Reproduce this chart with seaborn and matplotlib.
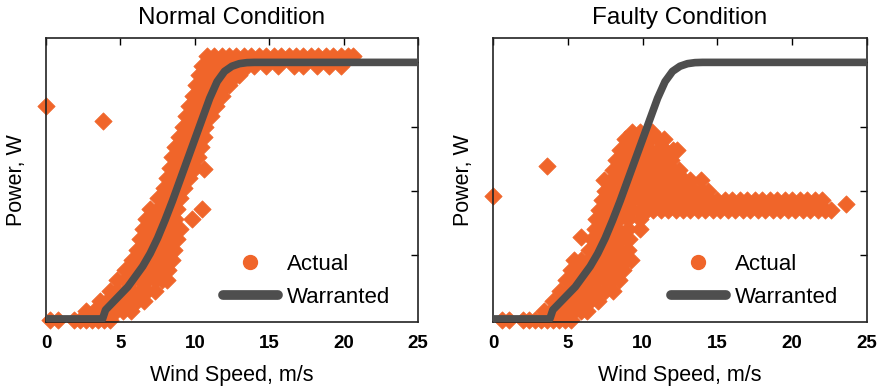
import matplotlib
matplotlib.use("Agg")
import matplotlib.pyplot as plt
import pandas as pd
import seaborn as sns
from matplotlib.lines import Line2D

# ---------------- data (power as fraction of rated power) ----------------
curve_ws = [0, 3.8, 4.0, 4.5, 5.0, 5.5, 6.0, 6.5, 7.0, 7.5, 8.0, 8.5, 9.0, 9.5,
            10.0, 10.5, 11.0, 11.5, 12.0, 12.5, 13.0, 13.5, 14.0, 25.0]
curve_pw = [0, 0, 0.035, 0.065, 0.095, 0.125, 0.165, 0.205, 0.255, 0.315, 0.385,
            0.46, 0.54, 0.62, 0.70, 0.78, 0.86, 0.925, 0.965, 0.985, 0.995,
            0.999, 1.0, 1.0]

# Normal condition: rows of measured points (power level, wind speeds)
normal_rows = [
    (-0.005, [0.3, 0.8, 1.9, 2.3, 2.7, 3.1, 3.5, 3.9, 4.3]),
    (0.03, [2.7, 3.2, 3.7, 4.2, 4.7, 5.2, 5.7]),
    (0.07, [3.6, 4.1, 4.6, 5.1, 5.6, 6.1, 6.6]),
    (0.11, [4.3, 4.8, 5.3, 5.8, 6.3, 6.8, 7.3]),
    (0.15, [4.8, 5.3, 5.8, 6.3, 6.8, 7.3, 7.8, 8.1]),
    (0.19, [5.3, 5.8, 6.3, 6.8, 7.3, 7.8, 8.2]),
    (0.23, [5.8, 6.3, 6.8, 7.3, 7.8, 8.3, 8.5]),
    (0.27, [6.1, 6.6, 7.1, 7.6, 8.1, 8.6]),
    (0.31, [6.3, 6.8, 7.3, 7.8, 8.3, 8.8]),
    (0.35, [6.5, 7.0, 7.5, 8.0, 8.5, 9.0]),
    (0.39, [6.7, 7.2, 7.7, 8.2, 8.7]),
    (0.43, [7.0, 7.5, 8.0, 8.5, 8.8]),
    (0.47, [7.5, 8.0, 8.5, 9.0]),
    (0.51, [7.9, 8.4, 8.9, 9.3]),
    (0.55, [8.1, 8.6, 9.1, 9.6]),
    (0.59, [8.3, 8.8, 9.3, 9.8, 10.0]),
    (0.63, [8.5, 9.0, 9.5, 10.0, 10.2]),
    (0.67, [8.7, 9.2, 9.7, 10.2, 10.4]),
    (0.71, [8.95, 9.45, 9.95, 10.45, 10.6]),
    (0.75, [9.2, 9.7, 10.2, 10.7]),
    (0.79, [9.4, 9.9, 10.4, 10.9, 11.1]),
    (0.83, [9.6, 10.1, 10.6, 11.1, 11.4]),
    (0.87, [9.9, 10.4, 10.9, 11.4, 11.8]),
    (0.91, [10.1, 10.6, 11.1, 11.6, 12.1, 12.3]),
    (0.95, [10.3, 10.8, 11.3, 11.8, 12.3, 12.8, 13.0]),
    (0.985, [10.5, 11.0, 11.5, 12.0, 12.5, 13.0, 13.5, 14.0, 14.8, 15.6,
             16.7, 17.3, 18.2, 19.0, 19.8]),
    (1.025, [10.8, 11.3, 11.8, 12.3, 12.8, 13.3, 13.8, 14.3, 14.8, 15.3, 15.8,
             16.3, 16.8, 17.3, 17.8, 18.3, 18.8, 19.3, 19.8, 20.3, 20.6]),
]
normal_out_ws = [0.0, 3.85, 10.46, 9.8, 10.6]
normal_out_pw = [0.83, 0.77, 0.43, 0.39, 0.585]

# Faulty condition
faulty_rows = [
    (-0.005, [0.6, 1.1, 2.0, 2.4, 2.8, 3.2, 3.6, 4.0, 4.4, 4.8, 5.2]),
    (0.03, [3.4, 3.9, 4.4, 4.9, 5.4, 5.9, 6.3]),
    (0.07, [4.0, 4.5, 5.0, 5.5, 6.0, 6.5, 7.0]),
    (0.11, [4.5, 5.0, 5.5, 6.0, 6.5, 7.0, 7.5, 8.0]),
    (0.15, [4.9, 5.4, 5.9, 6.4, 6.9, 7.4, 7.9, 8.4]),
    (0.19, [5.2, 5.7, 6.2, 6.7, 7.2, 7.7, 8.2, 8.7]),
    (0.23, [5.4, 5.9, 6.4, 6.9, 7.4, 7.9, 8.4, 8.9, 9.2]),
    (0.27, [6.4, 6.9, 7.4, 7.9, 8.4, 9.0]),
    (0.31, [6.6, 7.1, 7.6, 8.1, 8.6, 9.1]),
    (0.35, [6.8, 7.3, 7.8, 8.3, 9.0, 9.8]),
    (0.39, [6.9, 7.4, 7.9, 8.4, 9.0, 9.8]),
    (0.425, [7.1, 7.6, 8.1, 8.6, 9.3, 9.9, 10.3, 10.7, 11.2, 11.7, 12.2, 12.7,
             13.2, 13.7, 14.2, 14.7, 15.2, 15.7, 16.2, 16.7, 17.2, 17.7, 18.2,
             18.7, 19.2, 19.7, 20.2, 20.7, 21.2, 21.7, 22.2, 22.6]),
    (0.465, [7.3, 7.8, 8.3, 8.8, 9.3, 9.8, 10.5, 11.0, 11.5, 12.0, 12.5, 13.0,
             13.5, 14.0, 14.5, 15.0, 15.5, 16.0, 16.5, 17.0, 17.5, 18.0, 18.5,
             19.0, 19.5, 20.0, 20.5, 21.0, 21.5, 22.0]),
    (0.50, [7.5, 8.0, 8.5, 9.0, 9.5, 10.0, 10.5, 11.0, 11.5, 12.0, 12.5, 13.0,
            13.5, 14.0, 14.4]),
    (0.54, [7.4, 7.9, 8.4, 8.9, 9.4, 9.9, 10.3, 10.8, 11.3, 11.8, 12.3, 12.8,
            13.2, 13.9]),
    (0.58, [8.0, 8.5, 9.0, 9.5, 10.0, 10.5, 11.0, 11.5, 12.0, 12.4]),
    (0.62, [8.2, 8.7, 9.2, 9.7, 10.0, 10.5, 11.0, 11.5, 11.9]),
    (0.66, [8.5, 9.0, 9.5, 10.0, 10.5, 11.0, 11.5, 12.0, 12.3]),
    (0.70, [8.8, 9.3, 10.0, 10.5, 11.0, 11.4]),
    (0.73, [9.3, 9.8, 10.3, 10.6]),
]
faulty_out_ws = [0.0, 3.6, 5.9, 23.6]
faulty_out_pw = [0.48, 0.595, 0.32, 0.448]

titles = ["Normal Condition", "Faulty Condition"]
xlabel = "Wind Speed, m/s"
ylabel = "Power, W"
xticks = [0, 5, 10, 15, 20, 25]
yticks = [0.25, 0.5, 0.75, 1.0]
legend_labels = ["Actual", "Warranted"]

ORANGE = "#F0652A"
GRAY = "#4E4E4E"


def rows_to_frame(rows, out_ws, out_pw):
    ws, pw = [], []
    for p, vs in rows:
        ws.extend(vs)
        pw.extend([p] * len(vs))
    ws.extend(out_ws)
    pw.extend(out_pw)
    return pd.DataFrame({"ws": ws, "pw": pw})


normal_df = rows_to_frame(normal_rows, normal_out_ws, normal_out_pw)
faulty_df = rows_to_frame(faulty_rows, faulty_out_ws, faulty_out_pw)
curve_df = pd.DataFrame({"ws": curve_ws, "pw": curve_pw})

sns.set_style("white")
plt.rcParams["font.family"] = ["Liberation Sans", "DejaVu Sans"]
plt.rcParams["text.color"] = "black"
plt.rcParams["axes.labelcolor"] = "black"

fig = plt.figure(figsize=(8.83, 3.88), dpi=100)
axL = fig.add_axes([46 / 883, 66 / 388, 372 / 883, 284 / 388])
axR = fig.add_axes([493 / 883, 66 / 388, 374 / 883, 284 / 388])

for ax, df, title in [(axL, normal_df, titles[0]), (axR, faulty_df, titles[1])]:
    sns.scatterplot(data=df, x="ws", y="pw", ax=ax, marker="D", s=78,
                    color=ORANGE, edgecolor=ORANGE, linewidth=0.5,
                    clip_on=False, zorder=2, legend=False)
    sns.lineplot(data=curve_df, x="ws", y="pw", ax=ax, sort=False,
                 estimator=None, color=GRAY, lw=5.5, zorder=3, legend=False)
    ax.set_xlim(0, 25)
    ax.set_ylim(-0.012, 1.095)
    ax.set_xticks(xticks)
    ax.set_xticklabels([str(t) for t in xticks], fontweight="bold")
    ax.set_yticks(yticks)
    ax.set_yticklabels([])
    ax.tick_params(direction="in", top=True, right=True, length=5, width=1,
                   labelsize=13.5, pad=9, colors="black")
    for sp in ax.spines.values():
        sp.set_color("#222222")
        sp.set_linewidth(1.2)
    ax.set_title(title, fontsize=17.5, pad=10, color="black")
    ax.set_xlabel(xlabel, fontsize=15.5, labelpad=10)
    ax.set_ylabel(ylabel, fontsize=15.5, labelpad=5)
    handles = [Line2D([], [], marker="o", ls="none", color=ORANGE, markersize=10),
               Line2D([], [], color=GRAY, lw=7)]
    ax.legend(handles, legend_labels, loc="upper left",
              bbox_to_anchor=(0.475, 0.24), frameon=False, fontsize=16,
              handlelength=2.5, handletextpad=0.4, labelspacing=0.55,
              borderpad=0, borderaxespad=0)

fig.savefig("out.png", dpi=100)
